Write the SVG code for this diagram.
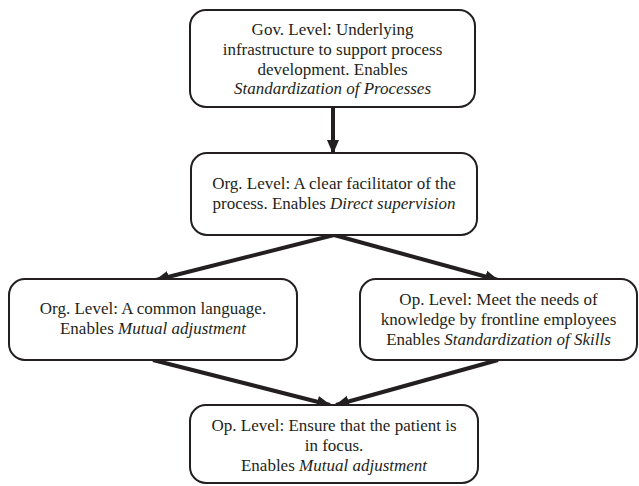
<svg xmlns="http://www.w3.org/2000/svg" width="639" height="486" viewBox="0 0 639 486">
<style>
.box{fill:#fff;stroke:#231f20;stroke-width:2}
.t{font-family:"Liberation Serif","Times New Roman",serif;font-size:17px;fill:#231f20;text-anchor:middle}
.i{font-style:italic}
.c{stroke:#231f20;stroke-width:4;fill:none}
</style>
<defs>
<marker id="ah" markerUnits="userSpaceOnUse" markerWidth="14" markerHeight="14" viewBox="0 0 14 14" refX="13" refY="7" orient="auto">
<path d="M0,1 L14,7 L0,13 Z" fill="#231f20"/>
</marker>
</defs>
<rect width="639" height="486" fill="#fff"/>
<g id="connectors">
<line class="c" x1="333" y1="107" x2="333" y2="153" marker-end="url(#ah)"/>
<line class="c" x1="334" y1="235" x2="156" y2="280" marker-end="url(#ah)"/>
<line class="c" x1="334" y1="235" x2="498" y2="280" marker-end="url(#ah)"/>
<line class="c" x1="153" y1="360" x2="330" y2="405" marker-end="url(#ah)"/>
<line class="c" x1="498" y1="360" x2="336" y2="405" marker-end="url(#ah)"/>
</g>
<g id="gov">
<rect class="box" x="190" y="10" width="285" height="97" rx="16"/>
<text class="t" x="332.5" y="35">Gov. Level: Underlying</text>
<text class="t" x="332.5" y="55">infrastructure to support process</text>
<text class="t" x="332.5" y="74.5">development. Enables</text>
<text class="t i" x="332.5" y="94">Standardization of Processes</text>
</g>
<g id="org1">
<rect class="box" x="191" y="153" width="286" height="82" rx="16"/>
<text class="t" x="334" y="189">Org. Level: A clear facilitator of the</text>
<text class="t" x="334" y="209">process. Enables <tspan class="i">Direct supervision</tspan></text>
</g>
<g id="org2">
<rect class="box" x="9" y="279" width="288" height="81" rx="16"/>
<text class="t" x="153" y="314">Org. Level: A common language.</text>
<text class="t" x="153" y="334">Enables <tspan class="i">Mutual adjustment</tspan></text>
</g>
<g id="op1">
<rect class="box" x="360" y="279" width="277" height="81" rx="16"/>
<text class="t" x="498.5" y="305">Op. Level: Meet the needs of</text>
<text class="t" x="498.5" y="325">knowledge by frontline employees</text>
<text class="t" x="498.5" y="345">Enables <tspan class="i">Standardization of Skills</tspan></text>
</g>
<g id="op2">
<rect class="box" x="190" y="405" width="288" height="78" rx="16"/>
<text class="t" x="334" y="431">Op. Level: Ensure that the patient is</text>
<text class="t" x="334" y="451">in focus.</text>
<text class="t" x="334" y="471">Enables <tspan class="i">Mutual adjustment</tspan></text>
</g>
</svg>
